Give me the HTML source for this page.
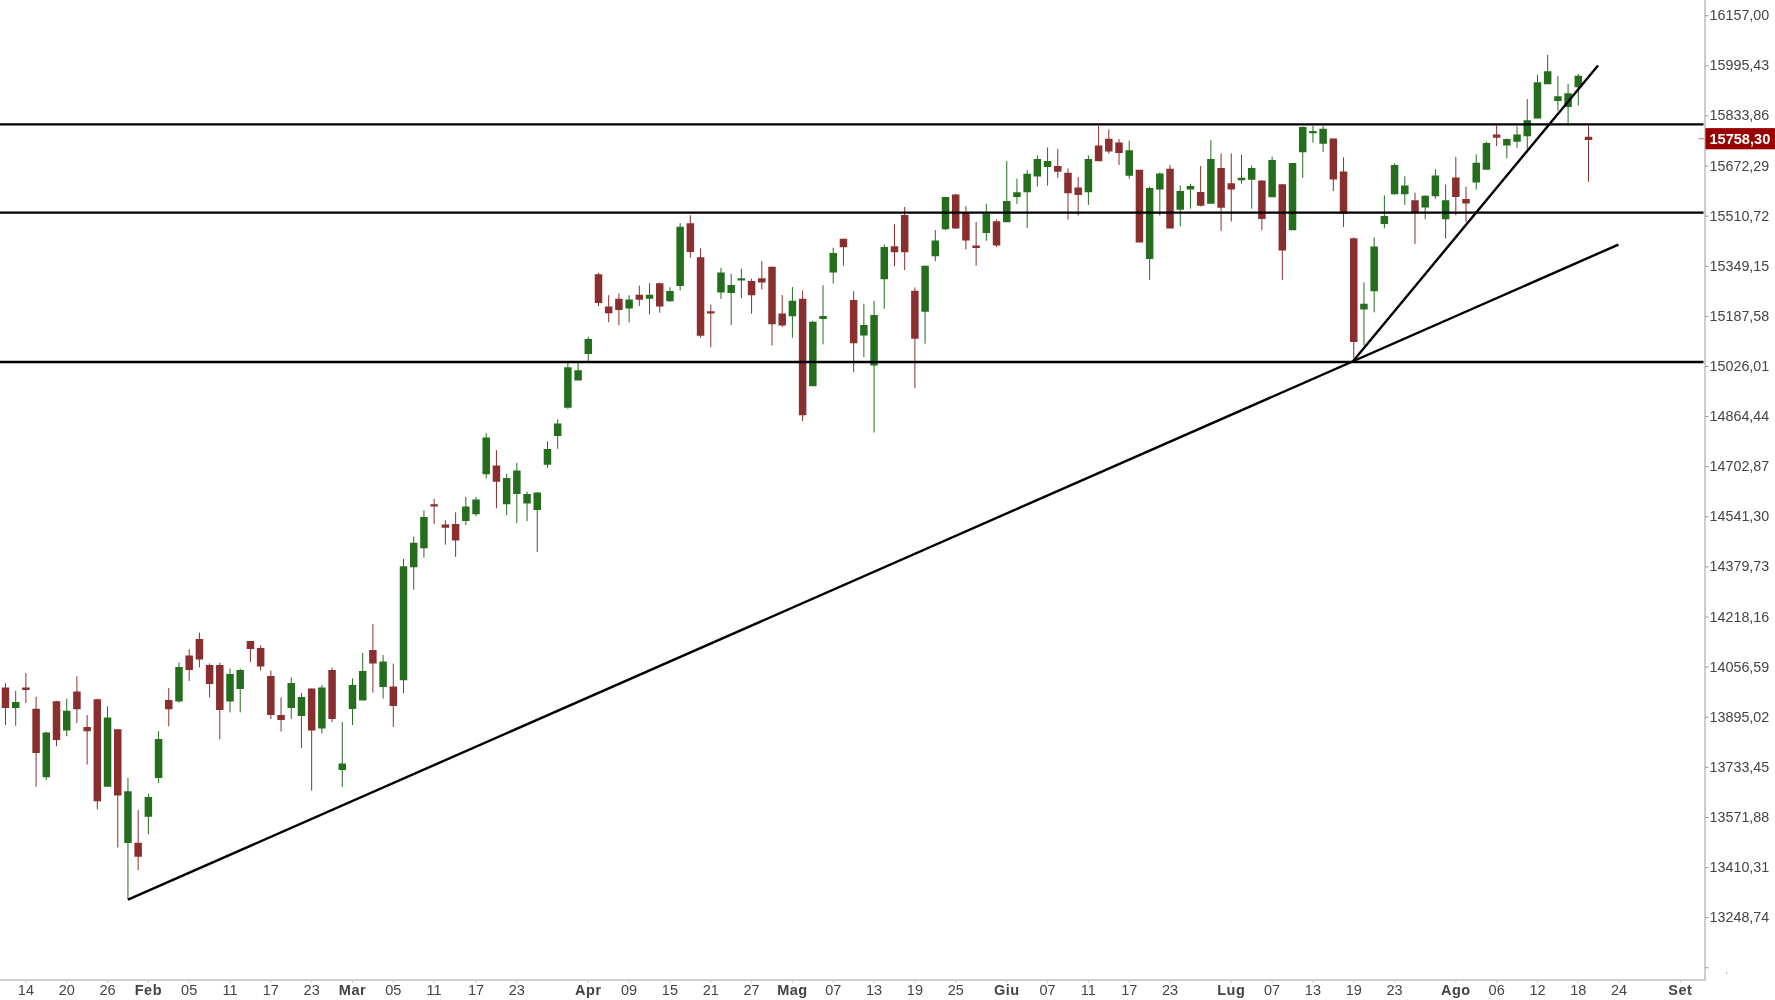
<!DOCTYPE html>
<html><head><meta charset="utf-8"><style>
html,body{margin:0;padding:0;background:#fff;}
body{width:1775px;height:1000px;overflow:hidden;}
svg{display:block;will-change:transform;}
text{font-family:"Liberation Sans",sans-serif;}
</style></head><body>
<svg width="1775" height="1000" viewBox="0 0 1775 1000">
<rect x="0" y="0" width="1775" height="1000" fill="#fff"/>

<line x1="1705" y1="0" x2="1705" y2="980" stroke="#bdbdbd" stroke-width="1.5"/>
<line x1="0" y1="980" x2="1705.75" y2="980" stroke="#bdbdbd" stroke-width="1.5"/>
<line x1="1705" y1="15.70" x2="1708.5" y2="15.70" stroke="#999" stroke-width="1"/><line x1="1705" y1="65.81" x2="1708.5" y2="65.81" stroke="#999" stroke-width="1"/><line x1="1705" y1="115.92" x2="1708.5" y2="115.92" stroke="#999" stroke-width="1"/><line x1="1705" y1="166.03" x2="1708.5" y2="166.03" stroke="#999" stroke-width="1"/><line x1="1705" y1="216.14" x2="1708.5" y2="216.14" stroke="#999" stroke-width="1"/><line x1="1705" y1="266.25" x2="1708.5" y2="266.25" stroke="#999" stroke-width="1"/><line x1="1705" y1="316.36" x2="1708.5" y2="316.36" stroke="#999" stroke-width="1"/><line x1="1705" y1="366.47" x2="1708.5" y2="366.47" stroke="#999" stroke-width="1"/><line x1="1705" y1="416.58" x2="1708.5" y2="416.58" stroke="#999" stroke-width="1"/><line x1="1705" y1="466.69" x2="1708.5" y2="466.69" stroke="#999" stroke-width="1"/><line x1="1705" y1="516.80" x2="1708.5" y2="516.80" stroke="#999" stroke-width="1"/><line x1="1705" y1="566.91" x2="1708.5" y2="566.91" stroke="#999" stroke-width="1"/><line x1="1705" y1="617.02" x2="1708.5" y2="617.02" stroke="#999" stroke-width="1"/><line x1="1705" y1="667.13" x2="1708.5" y2="667.13" stroke="#999" stroke-width="1"/><line x1="1705" y1="717.24" x2="1708.5" y2="717.24" stroke="#999" stroke-width="1"/><line x1="1705" y1="767.35" x2="1708.5" y2="767.35" stroke="#999" stroke-width="1"/><line x1="1705" y1="817.46" x2="1708.5" y2="817.46" stroke="#999" stroke-width="1"/><line x1="1705" y1="867.57" x2="1708.5" y2="867.57" stroke="#999" stroke-width="1"/><line x1="1705" y1="917.68" x2="1708.5" y2="917.68" stroke="#999" stroke-width="1"/><line x1="1705" y1="967.79" x2="1708.5" y2="967.79" stroke="#999" stroke-width="1"/>
<g font-size="14.3" fill="#444"><text transform="translate(1709.6 20.20) scale(1 1.05)">16157,00</text><text transform="translate(1709.6 70.31) scale(1 1.05)">15995,43</text><text transform="translate(1709.6 120.42) scale(1 1.05)">15833,86</text><text transform="translate(1709.6 170.53) scale(1 1.05)">15672,29</text><text transform="translate(1709.6 220.64) scale(1 1.05)">15510,72</text><text transform="translate(1709.6 270.75) scale(1 1.05)">15349,15</text><text transform="translate(1709.6 320.86) scale(1 1.05)">15187,58</text><text transform="translate(1709.6 370.97) scale(1 1.05)">15026,01</text><text transform="translate(1709.6 421.08) scale(1 1.05)">14864,44</text><text transform="translate(1709.6 471.19) scale(1 1.05)">14702,87</text><text transform="translate(1709.6 521.30) scale(1 1.05)">14541,30</text><text transform="translate(1709.6 571.41) scale(1 1.05)">14379,73</text><text transform="translate(1709.6 621.52) scale(1 1.05)">14218,16</text><text transform="translate(1709.6 671.63) scale(1 1.05)">14056,59</text><text transform="translate(1709.6 721.74) scale(1 1.05)">13895,02</text><text transform="translate(1709.6 771.85) scale(1 1.05)">13733,45</text><text transform="translate(1709.6 821.96) scale(1 1.05)">13571,88</text><text transform="translate(1709.6 872.07) scale(1 1.05)">13410,31</text><text transform="translate(1709.6 922.18) scale(1 1.05)">13248,74</text></g>
<line x1="25.89" y1="980.75" x2="25.89" y2="983" stroke="#ccc" stroke-width="1"/><line x1="66.72" y1="980.75" x2="66.72" y2="983" stroke="#ccc" stroke-width="1"/><line x1="107.54" y1="980.75" x2="107.54" y2="983" stroke="#ccc" stroke-width="1"/><line x1="148.37" y1="980.75" x2="148.37" y2="983" stroke="#ccc" stroke-width="1"/><line x1="189.19" y1="980.75" x2="189.19" y2="983" stroke="#ccc" stroke-width="1"/><line x1="230.02" y1="980.75" x2="230.02" y2="983" stroke="#ccc" stroke-width="1"/><line x1="270.84" y1="980.75" x2="270.84" y2="983" stroke="#ccc" stroke-width="1"/><line x1="311.67" y1="980.75" x2="311.67" y2="983" stroke="#ccc" stroke-width="1"/><line x1="352.49" y1="980.75" x2="352.49" y2="983" stroke="#ccc" stroke-width="1"/><line x1="393.31" y1="980.75" x2="393.31" y2="983" stroke="#ccc" stroke-width="1"/><line x1="434.14" y1="980.75" x2="434.14" y2="983" stroke="#ccc" stroke-width="1"/><line x1="476.02" y1="980.75" x2="476.02" y2="983" stroke="#ccc" stroke-width="1"/><line x1="516.85" y1="980.75" x2="516.85" y2="983" stroke="#ccc" stroke-width="1"/><line x1="588.29" y1="980.75" x2="588.29" y2="983" stroke="#ccc" stroke-width="1"/><line x1="629.12" y1="980.75" x2="629.12" y2="983" stroke="#ccc" stroke-width="1"/><line x1="669.94" y1="980.75" x2="669.94" y2="983" stroke="#ccc" stroke-width="1"/><line x1="710.77" y1="980.75" x2="710.77" y2="983" stroke="#ccc" stroke-width="1"/><line x1="751.59" y1="980.75" x2="751.59" y2="983" stroke="#ccc" stroke-width="1"/><line x1="792.42" y1="980.75" x2="792.42" y2="983" stroke="#ccc" stroke-width="1"/><line x1="833.24" y1="980.75" x2="833.24" y2="983" stroke="#ccc" stroke-width="1"/><line x1="874.07" y1="980.75" x2="874.07" y2="983" stroke="#ccc" stroke-width="1"/><line x1="914.89" y1="980.75" x2="914.89" y2="983" stroke="#ccc" stroke-width="1"/><line x1="955.71" y1="980.75" x2="955.71" y2="983" stroke="#ccc" stroke-width="1"/><line x1="1006.75" y1="980.75" x2="1006.75" y2="983" stroke="#ccc" stroke-width="1"/><line x1="1047.57" y1="980.75" x2="1047.57" y2="983" stroke="#ccc" stroke-width="1"/><line x1="1088.40" y1="980.75" x2="1088.40" y2="983" stroke="#ccc" stroke-width="1"/><line x1="1129.22" y1="980.75" x2="1129.22" y2="983" stroke="#ccc" stroke-width="1"/><line x1="1170.04" y1="980.75" x2="1170.04" y2="983" stroke="#ccc" stroke-width="1"/><line x1="1231.28" y1="980.75" x2="1231.28" y2="983" stroke="#ccc" stroke-width="1"/><line x1="1272.11" y1="980.75" x2="1272.11" y2="983" stroke="#ccc" stroke-width="1"/><line x1="1312.93" y1="980.75" x2="1312.93" y2="983" stroke="#ccc" stroke-width="1"/><line x1="1353.76" y1="980.75" x2="1353.76" y2="983" stroke="#ccc" stroke-width="1"/><line x1="1394.58" y1="980.75" x2="1394.58" y2="983" stroke="#ccc" stroke-width="1"/><line x1="1455.82" y1="980.75" x2="1455.82" y2="983" stroke="#ccc" stroke-width="1"/><line x1="1496.64" y1="980.75" x2="1496.64" y2="983" stroke="#ccc" stroke-width="1"/><line x1="1537.47" y1="980.75" x2="1537.47" y2="983" stroke="#ccc" stroke-width="1"/><line x1="1578.29" y1="980.75" x2="1578.29" y2="983" stroke="#ccc" stroke-width="1"/><line x1="1619.12" y1="980.75" x2="1619.12" y2="983" stroke="#ccc" stroke-width="1"/><line x1="1680.35" y1="980.75" x2="1680.35" y2="983" stroke="#ccc" stroke-width="1"/>
<g font-size="14.5" fill="#444" text-anchor="middle"><text x="25.89" y="995">14</text><text x="66.72" y="995">20</text><text x="107.54" y="995">26</text><text x="148.37" y="995" font-weight="bold" letter-spacing="0.5">Feb</text><text x="189.19" y="995">05</text><text x="230.02" y="995">11</text><text x="270.84" y="995">17</text><text x="311.67" y="995">23</text><text x="352.49" y="995" font-weight="bold" letter-spacing="0.5">Mar</text><text x="393.31" y="995">05</text><text x="434.14" y="995">11</text><text x="476.02" y="995">17</text><text x="516.85" y="995">23</text><text x="588.29" y="995" font-weight="bold" letter-spacing="0.5">Apr</text><text x="629.12" y="995">09</text><text x="669.94" y="995">15</text><text x="710.77" y="995">21</text><text x="751.59" y="995">27</text><text x="792.42" y="995" font-weight="bold" letter-spacing="0.5">Mag</text><text x="833.24" y="995">07</text><text x="874.07" y="995">13</text><text x="914.89" y="995">19</text><text x="955.71" y="995">25</text><text x="1006.75" y="995" font-weight="bold" letter-spacing="0.5">Giu</text><text x="1047.57" y="995">07</text><text x="1088.40" y="995">11</text><text x="1129.22" y="995">17</text><text x="1170.04" y="995">23</text><text x="1231.28" y="995" font-weight="bold" letter-spacing="0.5">Lug</text><text x="1272.11" y="995">07</text><text x="1312.93" y="995">13</text><text x="1353.76" y="995">19</text><text x="1394.58" y="995">23</text><text x="1455.82" y="995" font-weight="bold" letter-spacing="0.5">Ago</text><text x="1496.64" y="995">06</text><text x="1537.47" y="995">12</text><text x="1578.29" y="995">18</text><text x="1619.12" y="995">24</text><text x="1680.35" y="995" font-weight="bold" letter-spacing="0.5">Set</text></g>
<path d="M5.48 683.25V725.00M25.89 673.00V703.00M36.10 696.75V786.75M56.51 700.75V746.25M76.92 676.25V723.00M87.13 715.00V764.50M97.33 698.75V809.25M117.75 729.25V847.50M138.16 810.00V870.00M168.78 688.00V726.25M189.19 649.00V681.00M199.40 632.60V667.40M209.60 663.40V697.40M219.81 662.60V739.40M250.43 641.00V662.00M260.63 645.40V670.60M270.84 670.60V719.00M281.05 697.40V731.60M311.67 688.60V790.60M332.08 667.60V722.00M372.90 624.00V692.60M393.31 663.60V727.00M434.14 498.80V523.90M445.40 520.40V544.70M455.61 512.30V556.90M496.44 450.20V508.30M598.50 272.90V306.00M608.70 295.20V322.30M618.91 293.50V325.20M639.32 285.60V306.00M659.73 282.50V312.70M690.35 215.30V257.50M700.56 248.40V337.70M710.77 304.50V347.20M751.59 278.70V313.60M761.80 261.10V289.40M772.00 266.70V345.50M782.21 295.10V327.00M802.62 290.50V421.10M843.45 238.80V265.70M853.65 291.30V372.30M894.48 224.25V266.25M904.68 207.00V270.00M914.89 287.50V388.25M955.71 193.75V228.75M965.92 206.25V249.50M976.13 222.00V265.75M996.54 219.50V247.00M1057.78 148.90V177.80M1067.98 168.50V219.50M1078.19 177.00V215.50M1098.60 126.00V160.80M1108.81 129.40V153.50M1119.01 139.00V165.00M1139.43 169.80V242.10M1170.04 165.00V228.00M1200.66 165.90V206.40M1221.08 153.70V230.80M1231.28 153.50V221.50M1261.90 180.40V230.20M1282.31 184.30V279.80M1333.34 138.60V191.10M1343.55 157.30V227.00M1353.76 237.40V358.30M1414.99 192.70V243.90M1455.82 156.80V215.30M1466.02 186.70V221.80M1496.64 125.40V146.00M1588.50 125.50V181.90" stroke="#8a2f2f" stroke-width="1" fill="none"/>
<path d="M15.69 690.75V725.75M46.30 731.75V780.00M66.72 698.75V736.25M107.54 706.25V786.25M127.95 778.00V899.50M148.37 793.75V834.25M158.57 731.25V783.00M178.98 662.60V702.60M230.02 668.60V712.40M240.22 668.60V712.40M291.25 677.40V719.00M301.46 693.00V748.00M321.87 685.00V733.40M342.28 722.00V787.00M352.49 678.40V725.00M362.70 653.00V700.00M383.11 655.00V698.60M403.52 559.00V693.20M413.73 536.60V589.80M423.93 510.40V557.70M465.82 496.90V525.00M476.02 496.90V516.40M486.23 433.20V478.60M506.64 473.70V515.00M516.85 462.90V523.10M527.05 491.50V521.20M537.26 492.10V552.00M547.47 441.30V467.80M557.67 419.30V448.80M567.88 362.40V408.80M578.09 363.10V379.90M588.29 336.70V361.20M629.12 295.20V322.30M649.53 283.20V314.40M669.94 287.30V301.90M680.15 223.20V290.40M720.97 267.80V298.90M731.18 273.70V324.90M741.38 268.80V298.20M792.42 287.10V337.70M812.83 320.70V385.80M823.03 285.20V344.40M833.24 247.80V283.50M863.86 303.75V357.00M874.07 300.75V432.50M884.27 244.50V308.75M925.10 265.75V343.75M935.30 230.00V261.25M945.51 197.00V230.00M986.33 203.75V240.75M1006.75 161.10V221.70M1016.95 178.70V203.80M1027.16 170.20V228.00M1037.36 155.40V186.60M1047.57 147.50V185.50M1088.40 155.40V205.00M1129.22 140.70V178.70M1149.63 186.60V279.80M1159.84 172.40V215.50M1180.25 185.50V226.30M1190.46 183.80V208.70M1210.87 140.10V203.30M1241.49 154.50V183.80M1251.69 165.60V208.70M1272.11 156.60V196.80M1292.52 163.00V229.70M1302.73 126.50V177.80M1312.93 126.00V142.60M1323.14 126.10V152.10M1363.96 282.40V345.30M1374.17 237.40V312.30M1384.38 195.30V228.30M1394.58 163.30V194.50M1404.79 176.30V204.90M1425.20 195.30V219.20M1435.41 169.30V198.90M1445.61 184.60V238.70M1476.23 154.40V189.60M1486.44 141.60V169.30M1506.85 138.50V158.30M1517.06 126.20V147.80M1527.26 99.00V148.90M1537.47 74.80V118.10M1547.67 54.80V84.00M1557.88 76.20V110.50M1568.09 83.70V123.00M1578.29 74.00V105.50" stroke="#246e1e" stroke-width="1" fill="none"/>
<path d="M1.73 687.50h7.5v20.50h-7.5zM22.14 687.50h7.5v2.50h-7.5zM32.35 708.75h7.5v44.25h-7.5zM52.76 701.25h7.5v38.75h-7.5zM73.17 691.50h7.5v17.75h-7.5zM83.38 727.00h7.5v4.25h-7.5zM93.58 699.25h7.5v102.00h-7.5zM114.00 729.25h7.5v66.25h-7.5zM134.41 842.75h7.5v14.00h-7.5zM165.03 700.00h7.5v9.25h-7.5zM185.44 655.60h7.5v14.50h-7.5zM195.65 639.00h7.5v20.50h-7.5zM205.85 665.00h7.5v19.10h-7.5zM216.06 665.00h7.5v45.10h-7.5zM246.68 641.00h7.5v8.10h-7.5zM256.88 648.00h7.5v18.50h-7.5zM267.09 676.00h7.5v39.10h-7.5zM277.30 715.00h7.5v4.90h-7.5zM307.92 688.60h7.5v41.90h-7.5zM328.33 670.00h7.5v49.10h-7.5zM369.15 650.00h7.5v13.50h-7.5zM389.56 686.60h7.5v19.50h-7.5zM430.39 504.20h7.5v2.40h-7.5zM441.65 524.50h7.5v3.20h-7.5zM451.86 523.90h7.5v16.50h-7.5zM492.69 465.60h7.5v16.20h-7.5zM594.75 274.30h7.5v28.60h-7.5zM604.95 306.50h7.5v6.70h-7.5zM615.16 298.80h7.5v11.30h-7.5zM635.57 294.70h7.5v5.10h-7.5zM655.98 283.20h7.5v23.30h-7.5zM686.60 223.20h7.5v28.80h-7.5zM696.81 257.30h7.5v78.50h-7.5zM707.02 311.30h7.5v2.10h-7.5zM747.84 281.00h7.5v14.20h-7.5zM758.05 278.30h7.5v4.10h-7.5zM768.25 266.70h7.5v57.60h-7.5zM778.46 313.40h7.5v12.00h-7.5zM798.87 298.70h7.5v116.60h-7.5zM839.70 238.80h7.5v8.50h-7.5zM849.90 299.90h7.5v43.30h-7.5zM890.73 246.25h7.5v6.00h-7.5zM900.93 215.00h7.5v37.25h-7.5zM911.14 290.75h7.5v48.00h-7.5zM951.96 194.50h7.5v34.00h-7.5zM962.17 212.50h7.5v28.00h-7.5zM972.38 245.50h7.5v2.50h-7.5zM992.79 221.25h7.5v24.25h-7.5zM1054.03 165.90h7.5v5.90h-7.5zM1064.23 172.70h7.5v20.60h-7.5zM1074.44 187.50h7.5v7.50h-7.5zM1094.85 145.50h7.5v15.80h-7.5zM1105.06 138.70h7.5v12.70h-7.5zM1115.26 142.60h7.5v10.50h-7.5zM1135.68 169.80h7.5v72.80h-7.5zM1166.29 168.80h7.5v59.70h-7.5zM1196.91 191.90h7.5v13.90h-7.5zM1217.33 167.90h7.5v39.80h-7.5zM1227.53 183.20h7.5v6.20h-7.5zM1258.15 180.40h7.5v38.70h-7.5zM1278.56 184.30h7.5v66.30h-7.5zM1329.59 138.60h7.5v40.80h-7.5zM1339.80 171.60h7.5v42.10h-7.5zM1350.01 238.20h7.5v103.70h-7.5zM1411.24 200.20h7.5v13.00h-7.5zM1452.07 177.60h7.5v19.50h-7.5zM1462.27 198.90h7.5v4.70h-7.5zM1492.89 134.60h7.5v3.10h-7.5zM1584.75 136.80h7.5v3.10h-7.5z" fill="#8a2f2f"/>
<path d="M11.94 702.00h7.5v6.00h-7.5zM42.55 732.50h7.5v44.75h-7.5zM62.97 710.75h7.5v19.75h-7.5zM103.79 717.50h7.5v69.25h-7.5zM124.20 791.25h7.5v51.75h-7.5zM144.62 797.00h7.5v19.75h-7.5zM154.82 739.00h7.5v39.00h-7.5zM175.23 667.00h7.5v34.50h-7.5zM226.27 674.00h7.5v27.50h-7.5zM236.47 670.00h7.5v18.90h-7.5zM287.50 683.00h7.5v25.10h-7.5zM297.71 697.00h7.5v18.90h-7.5zM318.12 687.60h7.5v40.90h-7.5zM338.53 763.40h7.5v6.70h-7.5zM348.74 685.00h7.5v24.10h-7.5zM358.95 671.00h7.5v29.50h-7.5zM379.36 661.60h7.5v25.50h-7.5zM399.77 566.30h7.5v113.90h-7.5zM409.98 542.80h7.5v24.50h-7.5zM420.18 516.90h7.5v31.30h-7.5zM462.07 506.40h7.5v14.50h-7.5zM472.27 499.60h7.5v14.60h-7.5zM482.48 437.60h7.5v36.60h-7.5zM502.89 478.00h7.5v26.20h-7.5zM513.10 470.50h7.5v23.40h-7.5zM523.30 494.00h7.5v9.40h-7.5zM533.51 492.60h7.5v17.50h-7.5zM543.72 448.90h7.5v15.90h-7.5zM553.92 423.60h7.5v12.50h-7.5zM564.13 367.20h7.5v40.60h-7.5zM574.34 370.30h7.5v10.10h-7.5zM584.54 339.10h7.5v14.90h-7.5zM625.37 299.50h7.5v8.90h-7.5zM645.78 294.70h7.5v4.10h-7.5zM666.19 291.10h7.5v10.10h-7.5zM676.40 226.80h7.5v59.30h-7.5zM717.22 272.60h7.5v19.80h-7.5zM727.43 285.00h7.5v8.10h-7.5zM737.63 278.30h7.5v2.20h-7.5zM788.67 300.80h7.5v15.40h-7.5zM809.08 321.70h7.5v64.60h-7.5zM819.28 316.10h7.5v3.00h-7.5zM829.49 253.10h7.5v19.40h-7.5zM860.11 325.00h7.5v10.50h-7.5zM870.32 315.00h7.5v50.50h-7.5zM880.52 247.00h7.5v32.25h-7.5zM921.35 265.75h7.5v46.00h-7.5zM931.55 240.50h7.5v15.75h-7.5zM941.76 197.00h7.5v32.25h-7.5zM982.58 213.75h7.5v19.25h-7.5zM1003.00 201.10h7.5v21.10h-7.5zM1013.20 192.30h7.5v4.70h-7.5zM1023.41 173.70h7.5v18.50h-7.5zM1033.61 159.10h7.5v17.50h-7.5zM1043.82 161.10h7.5v5.80h-7.5zM1084.65 159.10h7.5v33.10h-7.5zM1125.47 150.30h7.5v25.50h-7.5zM1145.88 188.00h7.5v71.10h-7.5zM1156.09 173.60h7.5v15.80h-7.5zM1176.50 191.10h7.5v18.70h-7.5zM1186.71 186.00h7.5v3.40h-7.5zM1207.12 159.10h7.5v44.70h-7.5zM1237.74 177.80h7.5v2.50h-7.5zM1247.94 167.90h7.5v11.80h-7.5zM1268.36 160.00h7.5v37.30h-7.5zM1288.77 163.00h7.5v67.20h-7.5zM1298.98 127.10h7.5v25.20h-7.5zM1309.18 131.00h7.5v2.30h-7.5zM1319.39 128.70h7.5v15.10h-7.5zM1360.21 303.70h7.5v5.70h-7.5zM1370.42 246.50h7.5v44.70h-7.5zM1380.63 216.10h7.5v8.00h-7.5zM1390.83 165.10h7.5v29.10h-7.5zM1401.04 185.40h7.5v8.80h-7.5zM1421.45 195.80h7.5v11.70h-7.5zM1431.66 175.50h7.5v20.80h-7.5zM1441.86 200.20h7.5v19.00h-7.5zM1472.48 162.70h7.5v19.70h-7.5zM1482.69 143.00h7.5v26.80h-7.5zM1503.10 139.00h7.5v6.60h-7.5zM1513.31 134.60h7.5v7.10h-7.5zM1523.51 120.30h7.5v15.90h-7.5zM1533.72 82.20h7.5v36.40h-7.5zM1543.92 71.20h7.5v13.00h-7.5zM1554.13 96.30h7.5v4.70h-7.5zM1564.34 93.30h7.5v13.70h-7.5zM1574.54 75.70h7.5v11.50h-7.5z" fill="#246e1e"/>
<line x1="0" y1="124.4" x2="1703.5" y2="124.4" stroke="#000" stroke-width="2.4"/>
<line x1="0" y1="212.6" x2="1703.5" y2="212.6" stroke="#000" stroke-width="2.4"/>
<line x1="0" y1="362.0" x2="1703.5" y2="362.0" stroke="#000" stroke-width="2.4"/>
<line x1="128" y1="899.6" x2="1618.4" y2="244.6" stroke="#000" stroke-width="2.4"/>
<line x1="1353.2" y1="361" x2="1598" y2="65.5" stroke="#000" stroke-width="2.4"/>
<line x1="1698.3" y1="138.8" x2="1703.9" y2="138.8" stroke="#d46a6a" stroke-width="1"/>
<rect x="1705.4" y="128.1" width="69.6" height="21.2" fill="#990000"/>
<text transform="translate(1709.4 143.6) scale(1 1.02)" font-size="14.6" font-weight="bold" fill="#fff">15758,30</text>
<rect x="1726" y="972.6" width="1" height="1" fill="#666"/>
</svg></body></html>
